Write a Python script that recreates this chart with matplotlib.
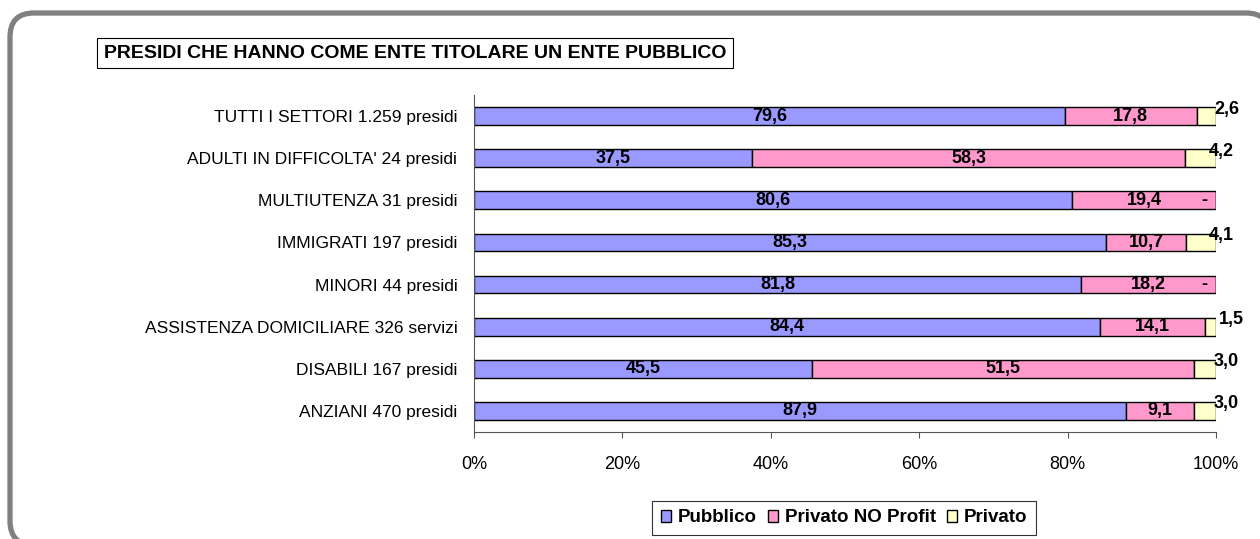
import matplotlib.pyplot as plt
from matplotlib.patches import FancyBboxPatch

plt.rcParams['font.family'] = ['Liberation Sans', 'DejaVu Sans']

categories = ["TUTTI I SETTORI 1.259 presidi", "ADULTI IN DIFFICOLTA' 24 presidi",
              "MULTIUTENZA 31 presidi", "IMMIGRATI 197 presidi", "MINORI 44 presidi",
              "ASSISTENZA DOMICILIARE 326 servizi", "DISABILI 167 presidi",
              "ANZIANI 470 presidi"]
pubblico = [79.6, 37.5, 80.6, 85.3, 81.8, 84.4, 45.5, 87.9]
no_profit = [17.8, 58.3, 19.4, 10.7, 18.2, 14.1, 51.5, 9.1]
privato = [2.6, 4.2, 0.0, 4.1, 0.0, 1.5, 3.0, 3.0]
series_names = ["Pubblico", "Privato NO Profit", "Privato"]
colors = ["#9999FF", "#FF99CC", "#FFFFCC"]
xticks = [0, 20, 40, 60, 80, 100]

fig = plt.figure(figsize=(12.6, 5.39), dpi=100)

# outer rounded frame (runs off the right and bottom edges like the original)
frame = FancyBboxPatch((0.10, -0.06), 12.60, 5.32,
                       boxstyle="round,pad=0,rounding_size=0.24",
                       transform=fig.dpi_scale_trans, facecolor="white",
                       edgecolor="#808080", linewidth=3.8, zorder=-5)
fig.patches.append(frame)

ax = fig.add_axes([474 / 1260, 1 - 432 / 539, 742 / 1260, 337 / 539])
ax.set_facecolor("none")

y = list(range(len(categories)))
rows = list(zip(pubblico, no_profit, privato))
norm = [[v / sum(r) * 100 for v in r] for r in rows]
left = [0] * len(categories)
bars = []
for i in range(3):
    w = [n[i] for n in norm]
    b = ax.barh(y, w, left=left, height=0.42, color=colors[i], edgecolor="black",
                linewidth=1, label=series_names[i])
    bars.append(b)
    left = [l + v for l, v in zip(left, w)]

def fmt(v):
    return "-" if v == 0 else ("%.1f" % v).replace(".", ",")

raw = [pubblico, no_profit, privato]
for i in range(3):
    for j, rect in enumerate(bars[i]):
        v = raw[i][j]
        cx = rect.get_x() + rect.get_width() / 2
        cy = rect.get_y() + rect.get_height() / 2
        if i < 2:
            ax.text(cx, cy, fmt(v), ha="center", va="center", fontsize=13,
                    fontweight="bold")
        elif v == 0:
            ax.text(98.4, cy, "-", ha="center", va="center", fontsize=13,
                    fontweight="bold")
        else:
            ax.annotate(fmt(v), (cx, cy), xytext=(15, 5), textcoords="offset points",
                        ha="center", va="center", fontsize=13, fontweight="bold",
                        annotation_clip=False)

ax.set_xlim(0, 100)
ax.set_ylim(len(categories) - 0.5, -0.5)
ax.set_yticks(y)
ax.set_yticklabels(categories, fontsize=12.5)
ax.set_xticks(xticks)
ax.set_xticklabels(["%d%%" % t for t in xticks], fontsize=13)
for s in ["top", "right"]:
    ax.spines[s].set_visible(False)
ax.spines["left"].set_color("#555555")
ax.spines["bottom"].set_color("#555555")
ax.tick_params(axis="y", length=0, pad=12)
ax.tick_params(axis="x", length=4, color="#555555", pad=13)

fig.text(415 / 1260, 1 - 53 / 539, "PRESIDI CHE HANNO COME ENTE TITOLARE UN ENTE PUBBLICO",
         ha="center", va="center", fontsize=14, fontweight="bold",
         bbox=dict(boxstyle="square,pad=0.35", facecolor="white", edgecolor="black",
                   linewidth=0.8))

leg = fig.legend(handles=bars, labels=series_names, loc="center",
                 bbox_to_anchor=(844 / 1260, 1 - 518 / 539), ncol=3, frameon=True,
                 fancybox=False, edgecolor="black", handlelength=0.55, handleheight=0.55,
                 handletextpad=0.35, columnspacing=0.6, borderpad=0.45,
                 prop={"weight": "bold", "size": 13.5})
leg.get_frame().set_linewidth(0.8)

fig.savefig("out.png", dpi=100)
